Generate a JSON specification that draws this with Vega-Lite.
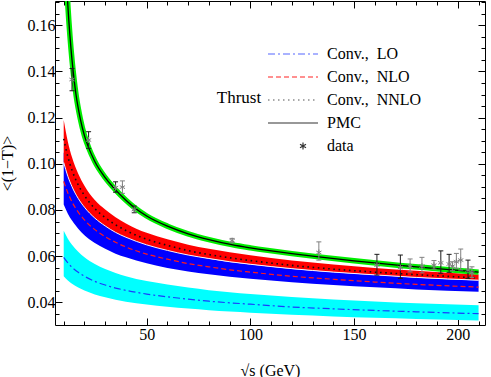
{
  "$schema": "https://vega.github.io/schema/vega-lite/v6.json",
  "width": 430,
  "height": 324,
  "autosize": "none",
  "padding": {"left": 55, "top": 1, "right": 6, "bottom": 52},
  "config": {
    "view": {"stroke": "black", "strokeWidth": 1},
    "axis": {"grid": false, "domain": false, "tickColor": "black", "tickWidth": 1, "tickCount": 60, "labelFont": "Liberation Serif", "labelFontSize": 16, "labelColor": "black", "titleFont": "Liberation Serif", "titleFontSize": 16, "titleFontWeight": "normal", "titleColor": "black", "labelOverlap": false, "labelFlush": false}
  },
  "datasets": {
    "bands": [
      {"band":"LO","x":10,"lo":0.0513,"hi":0.0710},{"band":"LO","x":12,"lo":0.0495,"hi":0.0676},{"band":"LO","x":14,"lo":0.0481,"hi":0.0650},{"band":"LO","x":17,"lo":0.0464,"hi":0.0619},{"band":"LO","x":20,"lo":0.0451,"hi":0.0595},{"band":"LO","x":25,"lo":0.0434,"hi":0.0566},{"band":"LO","x":30,"lo":0.0422,"hi":0.0544},{"band":"LO","x":35,"lo":0.0411,"hi":0.0527},{"band":"LO","x":40,"lo":0.0403,"hi":0.0513},{"band":"LO","x":50,"lo":0.0391,"hi":0.0492},{"band":"LO","x":60,"lo":0.0381,"hi":0.0477},{"band":"LO","x":70,"lo":0.0373,"hi":0.0464},{"band":"LO","x":80,"lo":0.0366,"hi":0.0453},{"band":"LO","x":90,"lo":0.0360,"hi":0.0444},{"band":"LO","x":100,"lo":0.0355,"hi":0.0436},{"band":"LO","x":120,"lo":0.0346,"hi":0.0423},{"band":"LO","x":140,"lo":0.0339,"hi":0.0412},{"band":"LO","x":160,"lo":0.0333,"hi":0.0404},{"band":"LO","x":180,"lo":0.0328,"hi":0.0396},{"band":"LO","x":210,"lo":0.0322,"hi":0.0387},
      {"band":"NLO","x":10,"lo":0.0824,"hi":0.1050},{"band":"NLO","x":12,"lo":0.0784,"hi":0.0984},{"band":"NLO","x":14,"lo":0.0754,"hi":0.0934},{"band":"NLO","x":17,"lo":0.0719,"hi":0.0877},{"band":"NLO","x":20,"lo":0.0691,"hi":0.0834},{"band":"NLO","x":25,"lo":0.0657,"hi":0.0782},{"band":"NLO","x":30,"lo":0.0632,"hi":0.0744},{"band":"NLO","x":35,"lo":0.0611,"hi":0.0715},{"band":"NLO","x":40,"lo":0.0595,"hi":0.0691},{"band":"NLO","x":50,"lo":0.0569,"hi":0.0654},{"band":"NLO","x":60,"lo":0.0549,"hi":0.0627},{"band":"NLO","x":70,"lo":0.0534,"hi":0.0606},{"band":"NLO","x":80,"lo":0.0522,"hi":0.0589},{"band":"NLO","x":90,"lo":0.0511,"hi":0.0575},{"band":"NLO","x":100,"lo":0.0502,"hi":0.0564},{"band":"NLO","x":120,"lo":0.0487,"hi":0.0545},{"band":"NLO","x":140,"lo":0.0475,"hi":0.0530},{"band":"NLO","x":160,"lo":0.0465,"hi":0.0518},{"band":"NLO","x":180,"lo":0.0456,"hi":0.0507},{"band":"NLO","x":210,"lo":0.0446,"hi":0.0495},
      {"band":"NNLO","x":10,"lo":0.1006,"hi":0.1190},{"band":"NNLO","x":12,"lo":0.0946,"hi":0.1096},{"band":"NNLO","x":14,"lo":0.0901,"hi":0.1028},{"band":"NNLO","x":17,"lo":0.0850,"hi":0.0957},{"band":"NNLO","x":20,"lo":0.0812,"hi":0.0905},{"band":"NNLO","x":25,"lo":0.0765,"hi":0.0843},{"band":"NNLO","x":30,"lo":0.0731,"hi":0.0802},{"band":"NNLO","x":35,"lo":0.0703,"hi":0.0769},{"band":"NNLO","x":40,"lo":0.0682,"hi":0.0742},{"band":"NNLO","x":50,"lo":0.0649,"hi":0.0701},{"band":"NNLO","x":60,"lo":0.0625,"hi":0.0673},{"band":"NNLO","x":70,"lo":0.0605,"hi":0.0650},{"band":"NNLO","x":80,"lo":0.0590,"hi":0.0632},{"band":"NNLO","x":90,"lo":0.0576,"hi":0.0617},{"band":"NNLO","x":100,"lo":0.0565,"hi":0.0604},{"band":"NNLO","x":120,"lo":0.0546,"hi":0.0581},{"band":"NNLO","x":140,"lo":0.0531,"hi":0.0564},{"band":"NNLO","x":160,"lo":0.0519,"hi":0.0549},{"band":"NNLO","x":180,"lo":0.0508,"hi":0.0537},{"band":"NNLO","x":210,"lo":0.0496,"hi":0.0521}
    ],
    "lines": [
      {"s":"LO","x":10,"v":0.0595},{"s":"LO","x":12,"v":0.0571},{"s":"LO","x":14,"v":0.0552},{"s":"LO","x":17,"v":0.0530},{"s":"LO","x":20,"v":0.0513},{"s":"LO","x":25,"v":0.0491},{"s":"LO","x":30,"v":0.0475},{"s":"LO","x":35,"v":0.0462},{"s":"LO","x":40,"v":0.0452},{"s":"LO","x":50,"v":0.0436},{"s":"LO","x":60,"v":0.0424},{"s":"LO","x":70,"v":0.0414},{"s":"LO","x":80,"v":0.0405},{"s":"LO","x":90,"v":0.0398},{"s":"LO","x":100,"v":0.0392},{"s":"LO","x":120,"v":0.0380},{"s":"LO","x":140,"v":0.0372},{"s":"LO","x":160,"v":0.0365},{"s":"LO","x":180,"v":0.0359},{"s":"LO","x":210,"v":0.0351},
      {"s":"NLO","x":10,"v":0.0924},{"s":"NLO","x":12,"v":0.0874},{"s":"NLO","x":14,"v":0.0835},{"s":"NLO","x":17,"v":0.0791},{"s":"NLO","x":20,"v":0.0757},{"s":"NLO","x":25,"v":0.0715},{"s":"NLO","x":30,"v":0.0684},{"s":"NLO","x":35,"v":0.0660},{"s":"NLO","x":40,"v":0.0640},{"s":"NLO","x":50,"v":0.0609},{"s":"NLO","x":60,"v":0.0587},{"s":"NLO","x":70,"v":0.0568},{"s":"NLO","x":80,"v":0.0554},{"s":"NLO","x":90,"v":0.0541},{"s":"NLO","x":100,"v":0.0531},{"s":"NLO","x":120,"v":0.0513},{"s":"NLO","x":140,"v":0.0500},{"s":"NLO","x":160,"v":0.0488},{"s":"NLO","x":180,"v":0.0478},{"s":"NLO","x":210,"v":0.0466},
      {"s":"NNLO","x":10,"v":0.1108},{"s":"NNLO","x":12,"v":0.1031},{"s":"NNLO","x":14,"v":0.0972},{"s":"NNLO","x":17,"v":0.0909},{"s":"NNLO","x":20,"v":0.0863},{"s":"NNLO","x":25,"v":0.0806},{"s":"NNLO","x":30,"v":0.0767},{"s":"NNLO","x":35,"v":0.0736},{"s":"NNLO","x":40,"v":0.0711},{"s":"NNLO","x":50,"v":0.0673},{"s":"NNLO","x":60,"v":0.0647},{"s":"NNLO","x":70,"v":0.0624},{"s":"NNLO","x":80,"v":0.0607},{"s":"NNLO","x":90,"v":0.0593},{"s":"NNLO","x":100,"v":0.0581},{"s":"NNLO","x":120,"v":0.0560},{"s":"NNLO","x":140,"v":0.0544},{"s":"NNLO","x":160,"v":0.0531},{"s":"NNLO","x":180,"v":0.0520},{"s":"NNLO","x":210,"v":0.0506},
      {"s":"PMC","x":11.5,"v":0.1765},{"s":"PMC","x":12,"v":0.1685},{"s":"PMC","x":13,"v":0.1555},{"s":"PMC","x":14,"v":0.1450},{"s":"PMC","x":15,"v":0.1365},{"s":"PMC","x":16,"v":0.1295},{"s":"PMC","x":18,"v":0.1195},{"s":"PMC","x":20,"v":0.1122},{"s":"PMC","x":22,"v":0.1070},{"s":"PMC","x":25,"v":0.1010},{"s":"PMC","x":30,"v":0.0940},{"s":"PMC","x":35,"v":0.0887},{"s":"PMC","x":40,"v":0.0842},{"s":"PMC","x":44,"v":0.0811},{"s":"PMC","x":50,"v":0.0774},{"s":"PMC","x":60,"v":0.0730},{"s":"PMC","x":70,"v":0.0697},{"s":"PMC","x":80,"v":0.0672},{"s":"PMC","x":91,"v":0.0650},{"s":"PMC","x":100,"v":0.0636},{"s":"PMC","x":120,"v":0.0611},{"s":"PMC","x":133,"v":0.0597},{"s":"PMC","x":150,"v":0.0580},{"s":"PMC","x":172,"v":0.0560},{"s":"PMC","x":190,"v":0.0546},{"s":"PMC","x":210,"v":0.0531}
    ],
    "pts": [
      {"x":14,"v":0.1365,"lo":0.1316,"hi":0.1413,"g":"k"},
      {"x":22,"v":0.1103,"lo":0.1067,"hi":0.1139,"g":"k"},
      {"x":35,"v":0.0897,"lo":0.0877,"hi":0.0922,"g":"k"},
      {"x":38.3,"v":0.0899,"lo":0.0872,"hi":0.0926,"g":"g"},
      {"x":44,"v":0.0802,"lo":0.0788,"hi":0.0817,"g":"k"},
      {"x":91.2,"v":0.0667,"lo":0.0658,"hi":0.0677,"g":"g"},
      {"x":133,"v":0.0616,"lo":0.0583,"hi":0.0662,"g":"g"},
      {"x":161,"v":0.0561,"lo":0.0518,"hi":0.0608,"g":"k"},
      {"x":172.3,"v":0.0551,"lo":0.0504,"hi":0.0605,"g":"k"},
      {"x":177,"v":0.0557,"lo":0.0532,"hi":0.0588,"g":"g"},
      {"x":182.7,"v":0.0557,"lo":0.0528,"hi":0.0595,"g":"g"},
      {"x":188.5,"v":0.0561,"lo":0.0544,"hi":0.0581,"g":"g"},
      {"x":191.8,"v":0.0571,"lo":0.0526,"hi":0.0623,"g":"k"},
      {"x":195.8,"v":0.0566,"lo":0.0530,"hi":0.0608,"g":"k"},
      {"x":197.4,"v":0.0557,"lo":0.0537,"hi":0.0576,"g":"g"},
      {"x":199.3,"v":0.0576,"lo":0.0547,"hi":0.0612,"g":"g"},
      {"x":201.4,"v":0.0583,"lo":0.0540,"hi":0.0631,"g":"g"},
      {"x":204.9,"v":0.0540,"lo":0.0504,"hi":0.0583,"g":"k"},
      {"x":206.8,"v":0.0528,"lo":0.0508,"hi":0.0554,"g":"g"}
    ],
    "leg": [
      {"name":"Conv.,\u00a0\u00a0LO"},{"name":"Conv.,\u00a0\u00a0NLO"},{"name":"Conv.,\u00a0\u00a0NNLO"},{"name":"PMC"},{"name":"data"}
    ]
  },
  "layer": [
    {
      "layer": [
        {
          "data": {"name": "bands"},
          "transform": [{"filter": "datum.band === 'LO'"}],
          "mark": {"type": "area", "color": "#00ffff", "interpolate": "monotone", "clip": true},
          "encoding": {
            "x": {"field": "x", "type": "quantitative", "scale": {"domain": [5.8, 213.1], "nice": false, "zero": false},
              "axis": {"title": "√s (GeV)", "tickCount": 60, "values": [10,20,30,40,50,60,70,80,90,100,110,120,130,140,150,160,170,180,190,200,210], "labelExpr": "datum.value % 50 === 0 ? datum.label : ''", "labelOverlap": false, "tickSize": {"condition": {"test": "datum.value % 50 === 0", "value": -7}, "value": -4}, "labelPadding": 8, "titlePadding": 17}},
            "y": {"field": "lo", "type": "quantitative", "scale": {"domain": [0.0302, 0.1705], "nice": false, "zero": false},
              "axis": {"title": "<(1−T)>", "tickCount": 60, "values": [0.035,0.04,0.045,0.05,0.055,0.06,0.065,0.07,0.075,0.08,0.085,0.09,0.095,0.1,0.105,0.11,0.115,0.12,0.125,0.13,0.135,0.14,0.145,0.15,0.155,0.16,0.165,0.17], "format": ".2f", "labelExpr": "abs(datum.value*50 - round(datum.value*50)) < 0.01 ? datum.label : ''", "labelOverlap": false, "tickSize": {"condition": {"test": "abs(datum.value*50 - round(datum.value*50)) < 0.01", "value": -7}, "value": -4}, "labelPadding": 7, "titlePadding": 12}},
            "y2": {"field": "hi"}
          }
        },
        {
          "data": {"name": "bands"},
          "transform": [{"filter": "datum.band === 'NLO'"}],
          "mark": {"type": "area", "color": "#0000ff", "interpolate": "monotone", "clip": true},
          "encoding": {"x": {"field": "x", "type": "quantitative"}, "y": {"field": "lo", "type": "quantitative"}, "y2": {"field": "hi"}}
        },
        {
          "data": {"name": "bands"},
          "transform": [{"filter": "datum.band === 'NNLO'"}],
          "mark": {"type": "area", "color": "#ff0000", "interpolate": "monotone", "clip": true},
          "encoding": {"x": {"field": "x", "type": "quantitative"}, "y": {"field": "lo", "type": "quantitative"}, "y2": {"field": "hi"}}
        },
        {
          "data": {"name": "bands"},
          "transform": [{"filter": "datum.band === 'NNLO'"}],
          "mark": {"type": "line", "color": "#f4f4ff", "strokeWidth": 1, "interpolate": "monotone", "clip": true},
          "encoding": {"x": {"field": "x", "type": "quantitative"}, "y": {"field": "lo", "type": "quantitative"}}
        },
        {
          "data": {"name": "lines"},
          "transform": [{"filter": "datum.s === 'PMC'"}],
          "mark": {"type": "line", "color": "#00ee00", "strokeWidth": 5.5, "interpolate": "monotone", "clip": true},
          "encoding": {"x": {"field": "x", "type": "quantitative"}, "y": {"field": "v", "type": "quantitative"}}
        },
        {
          "data": {"name": "lines"},
          "transform": [{"filter": "datum.s === 'LO'"}],
          "mark": {"type": "line", "color": "#1a3cff", "strokeWidth": 1.2, "strokeDash": [7, 3, 2, 3], "interpolate": "monotone", "clip": true},
          "encoding": {"x": {"field": "x", "type": "quantitative"}, "y": {"field": "v", "type": "quantitative"}}
        },
        {
          "data": {"name": "lines"},
          "transform": [{"filter": "datum.s === 'NLO'"}],
          "mark": {"type": "line", "color": "#ff1a1a", "strokeWidth": 1.2, "strokeDash": [5, 3], "interpolate": "monotone", "clip": true},
          "encoding": {"x": {"field": "x", "type": "quantitative"}, "y": {"field": "v", "type": "quantitative"}}
        },
        {
          "data": {"name": "lines"},
          "transform": [{"filter": "datum.s === 'NNLO'"}],
          "mark": {"type": "line", "color": "#111111", "strokeWidth": 1.6, "strokeDash": [1.6, 3.6], "interpolate": "monotone", "clip": true},
          "encoding": {"x": {"field": "x", "type": "quantitative"}, "y": {"field": "v", "type": "quantitative"}}
        },
        {
          "data": {"name": "lines"},
          "transform": [{"filter": "datum.s === 'PMC'"}],
          "mark": {"type": "line", "color": "#000000", "strokeWidth": 1.3, "interpolate": "monotone", "clip": true},
          "encoding": {"x": {"field": "x", "type": "quantitative"}, "y": {"field": "v", "type": "quantitative"}}
        },
        {
          "data": {"name": "pts"},
          "mark": {"type": "rule", "strokeWidth": 1},
          "encoding": {"x": {"field": "x", "type": "quantitative"}, "y": {"field": "lo", "type": "quantitative"}, "y2": {"field": "hi"},
            "color": {"condition": {"test": "datum.g === 'g'", "value": "#808080"}, "value": "#1a1a1a"}}
        },
        {
          "data": {"name": "pts"},
          "mark": {"type": "tick", "orient": "horizontal", "size": 5, "thickness": 1, "opacity": 1},
          "encoding": {"x": {"field": "x", "type": "quantitative"}, "y": {"field": "lo", "type": "quantitative"},
            "color": {"condition": {"test": "datum.g === 'g'", "value": "#808080"}, "value": "#1a1a1a"}}
        },
        {
          "data": {"name": "pts"},
          "mark": {"type": "tick", "orient": "horizontal", "size": 5, "thickness": 1, "opacity": 1},
          "encoding": {"x": {"field": "x", "type": "quantitative"}, "y": {"field": "hi", "type": "quantitative"},
            "color": {"condition": {"test": "datum.g === 'g'", "value": "#808080"}, "value": "#1a1a1a"}}
        },
        {
          "data": {"name": "pts"},
          "mark": {"type": "point", "shape": "M0,-1V1M-0.87,-0.5L0.87,0.5M-0.87,0.5L0.87,-0.5", "size": 36, "filled": false, "strokeWidth": 1, "color": "#808080", "opacity": 1},
          "encoding": {"x": {"field": "x", "type": "quantitative"}, "y": {"field": "v", "type": "quantitative"}}
        },
        {
          "data": {"values": [{"label": "Thrust", "x": 94.5, "v": 0.1285}]},
          "mark": {"type": "text", "font": "Liberation Serif", "fontSize": 17, "color": "black"},
          "encoding": {"x": {"field": "x", "type": "quantitative"}, "y": {"field": "v", "type": "quantitative"}, "text": {"field": "label"}}
        },
        {
          "data": {"name": "leg"},
          "mark": {"type": "point", "filled": false, "strokeWidth": 1.2, "opacity": 1, "clip": true},
          "encoding": {
            "x": {"field": "x", "type": "quantitative"},
            "y": {"field": "v", "type": "quantitative"},
            "color": {"field": "name", "type": "nominal",
              "scale": {"domain": ["Conv.,\u00a0\u00a0LO","Conv.,\u00a0\u00a0NLO","Conv.,\u00a0\u00a0NNLO","PMC","data"], "range": ["#5566ff","#ff2222","#555555","#333333","#333333"]},
              "legend": {"title": null, "orient": "none", "legendX": 225, "legendY": 45, "labelFont": "Liberation Serif", "labelFontSize": 16, "labelColor": "black", "symbolSize": 100, "symbolStrokeWidth": 1.2, "labelOffset": 31, "rowPadding": 7, "padding": 0}},
            "shape": {"field": "name", "type": "nominal",
              "scale": {"domain": ["Conv.,\u00a0\u00a0LO","Conv.,\u00a0\u00a0NLO","Conv.,\u00a0\u00a0NNLO","PMC","data"], "range": ["M-4,0H6","M-4,0H6","M-4,0H6","M-4,0H6","M3,-0.7V0.7M2.4,-0.35L3.6,0.35M2.4,0.35L3.6,-0.35"]},
              "legend": {"title": null, "orient": "none", "legendX": 225, "legendY": 45, "labelFont": "Liberation Serif", "labelFontSize": 16, "labelColor": "black", "symbolSize": 100, "symbolStrokeWidth": 1.2, "labelOffset": 31, "rowPadding": 7, "padding": 0}},
            "strokeDash": {"field": "name", "type": "nominal",
              "scale": {"domain": ["Conv.,\u00a0\u00a0LO","Conv.,\u00a0\u00a0NLO","Conv.,\u00a0\u00a0NNLO","PMC","data"], "range": [[7,3,2,3],[5,3],[1.5,3.5],[1,0],[1,0]]},
              "legend": {"title": null, "orient": "none", "legendX": 225, "legendY": 45, "labelFont": "Liberation Serif", "labelFontSize": 16, "labelColor": "black", "symbolSize": 100, "symbolStrokeWidth": 1.2, "labelOffset": 31, "rowPadding": 7, "padding": 0}}
          }
        }
      ]
    },
    {
      "data": {"name": "pts"},
      "mark": {"type": "point", "opacity": 0},
      "encoding": {
        "x": {"field": "x", "type": "quantitative", "scale": {"domain": [5.8, 213.1], "nice": false, "zero": false},
          "axis": {"orient": "top", "tickCount": 60, "values": [10,20,30,40,50,60,70,80,90,100,110,120,130,140,150,160,170,180,190,200,210], "labels": false, "title": null, "tickSize": {"condition": {"test": "datum.value % 50 === 0", "value": -7}, "value": -4}}},
        "y": {"field": "v", "type": "quantitative", "scale": {"domain": [0.0302, 0.1705], "nice": false, "zero": false},
          "axis": {"orient": "right", "tickCount": 60, "values": [0.035,0.04,0.045,0.05,0.055,0.06,0.065,0.07,0.075,0.08,0.085,0.09,0.095,0.1,0.105,0.11,0.115,0.12,0.125,0.13,0.135,0.14,0.145,0.15,0.155,0.16,0.165,0.17], "labels": false, "title": null, "tickSize": {"condition": {"test": "abs(datum.value*50 - round(datum.value*50)) < 0.01", "value": -7}, "value": -4}}}
      }
    }
  ],
  "resolve": {"axis": {"x": "independent", "y": "independent"}}
}
